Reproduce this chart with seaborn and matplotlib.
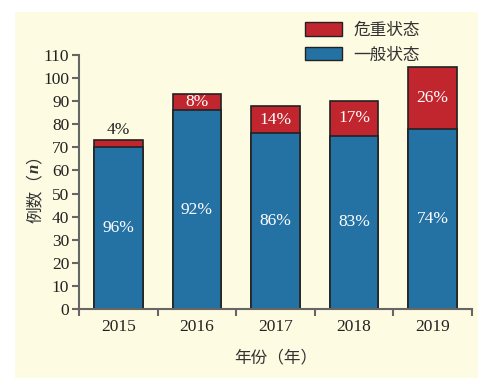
import numpy as np
import pandas as pd
import seaborn as sns
import matplotlib.pyplot as plt
from matplotlib.patches import Rectangle, Patch

years = ["2015", "2016", "2017", "2018", "2019"]
normal = [70, 86, 76, 75, 78]
severe = [3, 7, 12, 15, 27]
normal_pct = ["96%", "92%", "86%", "83%", "74%"]
severe_pct = ["4%", "8%", "14%", "17%", "26%"]

sns.set_style("ticks")
plt.rcParams['font.family'] = ['Liberation Serif', 'Noto Sans CJK SC']

cream = "#FDFBE1"
blue = "#2471A3"
red = "#C1262E"
grey = "#666666"
dark = "#333333"

df = pd.DataFrame({"year": years, "normal": normal,
                   "total": np.array(normal) + np.array(severe)})

fig = plt.figure(figsize=(5, 3.87), dpi=100)
fig.patch.set_facecolor("white")
fig.patches.append(Rectangle((15 / 500, 1 - 378 / 387), 463 / 500, 366 / 387,
                             transform=fig.transFigure, facecolor=cream,
                             edgecolor="none", zorder=-10))
ax = fig.add_axes([0.158, 0.2016, 0.786, 0.6564])
ax.set_facecolor("none")

sns.barplot(data=df, x="year", y="total", color=red, saturation=1, width=0.62,
            edgecolor="#222222", linewidth=1.2, ax=ax)
sns.barplot(data=df, x="year", y="normal", color=blue, saturation=1, width=0.62,
            edgecolor="#222222", linewidth=1.2, ax=ax)

for i in range(len(years)):
    ax.text(i, normal[i] / 2, normal_pct[i], ha="center", va="center",
            color="white", fontsize=12.5)
    if severe[i] < 5:
        ax.text(i, normal[i] + severe[i] + 1, severe_pct[i], ha="center", va="bottom",
                color="#222222", fontsize=12.5)
    else:
        ax.text(i, normal[i] + severe[i] / 2, severe_pct[i], ha="center", va="center",
                color="white", fontsize=12.5)

ax.set_xlim(-0.5, 4.5)
ax.set_ylim(0, 110)
ax.set_yticks(range(0, 111, 10))
ax.set_xticks(np.arange(-0.5, 5, 1), minor=True)
ax.tick_params(axis="x", which="major", length=0, labelsize=12.5, pad=7,
               labelcolor="#222222")
ax.tick_params(axis="x", which="minor", length=5, color=grey, width=1.5)
ax.tick_params(axis="y", length=5, color=grey, width=1.5, labelsize=12.5, pad=2,
               labelcolor="#222222")
for s in ["top", "right"]:
    ax.spines[s].set_visible(False)
for s in ["left", "bottom"]:
    ax.spines[s].set_color(grey)
    ax.spines[s].set_linewidth(1.5)

ax.set_xlabel("年份（年）", fontsize=12, labelpad=11, color=dark)
ax.set_ylabel("")

# y label in three pieces so that n can be bold italic
cx, cy = 35 / 500, 1 - 185 / 387
parts = [("例数（", dict(family=["Noto Sans CJK SC"])),
         ("n", dict(family=["Liberation Serif"], style="italic", weight="bold")),
         ("）", dict(family=["Noto Sans CJK SC"]))]
texts = [fig.text(cx, cy, s, rotation=90, ha="center", va="bottom",
                  fontsize=12, color=dark, **kw) for s, kw in parts]
fig.canvas.draw()
inv = fig.transFigure.inverted()
heights = []
for t in texts:
    bb = t.get_window_extent()
    (x0, y0), (x1, y1) = inv.transform([[bb.x0, bb.y0], [bb.x1, bb.y1]])
    heights.append(y1 - y0)
y = cy - sum(heights) / 2
for t, h in zip(texts, heights):
    t.set_y(y)
    y += h

handles = [Patch(facecolor=red, edgecolor="#222222", label="危重状态"),
           Patch(facecolor=blue, edgecolor="#222222", label="一般状态")]
leg = fig.legend(handles=handles, loc="center", bbox_to_anchor=(0.725, 0.89),
                 frameon=False, handlelength=2.2, handleheight=0.9,
                 labelspacing=0.45, handletextpad=0.7,
                 prop={"family": ["Noto Sans CJK SC"], "size": 12})
for t in leg.get_texts():
    t.set_color(dark)

fig.savefig("out.png", dpi=100)
